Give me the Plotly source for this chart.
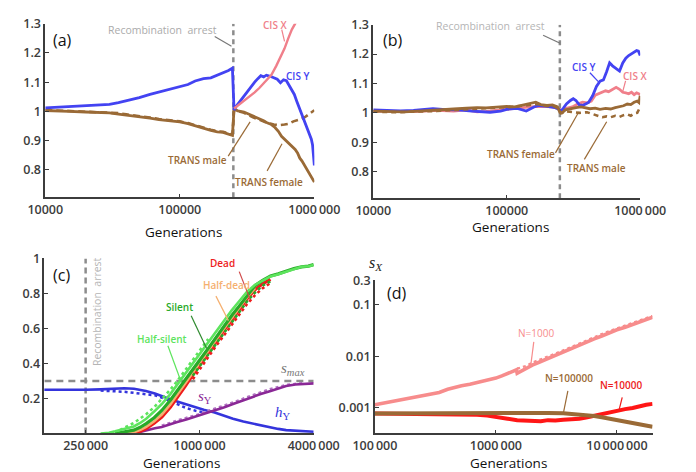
import plotly.graph_objects as go

W, H = 696, 472

# ---------------- shared reference values ----------------
arrest = 250000
smax = 0.3

# ---------------- Panel (a) ----------------
a_pre_x = [10000, 12500, 15000, 20000, 25000, 30000, 35000, 40000, 50000, 60000, 70000,
           80000, 90000, 100000, 115000, 130000, 150000, 170000, 190000, 210000, 230000, 246000]
a_cisY_pre = [1.012, 1.014, 1.016, 1.018, 1.021, 1.024, 1.03, 1.036, 1.047, 1.058, 1.066,
              1.073, 1.078, 1.083, 1.092, 1.104, 1.112, 1.115, 1.124, 1.131, 1.14, 1.148]
a_cisY_post_x = [253000, 265000, 280000, 300000, 320000, 340000, 360000, 380000, 400000, 420000,
                 440000, 470000, 500000, 530000, 560000, 590000, 620000, 650000, 680000, 710000,
                 740000, 770000, 800000, 830000, 860000, 890000, 920000, 950000, 970000, 985000, 1000000]
a_cisY_post = [1.005, 1.02, 1.035, 1.05, 1.068, 1.085, 1.1, 1.112, 1.122, 1.118,
               1.124, 1.12, 1.115, 1.11, 1.098, 1.108, 1.105, 1.09, 1.075, 1.058,
               1.035, 1.015, 0.995, 0.978, 0.96, 0.94, 0.925, 0.905, 0.885, 0.86, 0.815]
a_cisX_x = [253000, 270000, 300000, 330000, 360000, 390000, 420000, 450000, 480000, 520000,
            560000, 600000, 640000, 680000, 720000, 750000]
a_cisX = [1.01, 1.02, 1.035, 1.05, 1.065, 1.08, 1.095, 1.11, 1.125, 1.155,
          1.185, 1.215, 1.25, 1.28, 1.3, 1.32]
a_fem_pre = [1.003, 1.0, 1.0, 0.998, 0.997, 0.995, 0.991, 0.988, 0.983, 0.977, 0.972,
             0.969, 0.967, 0.964, 0.958, 0.95, 0.943, 0.935, 0.93, 0.928, 0.922, 0.918]
a_fem_post_x = [253000, 270000, 300000, 330000, 360000, 390000, 420000, 450000, 480000, 510000,
                540000, 570000, 600000, 630000, 660000, 690000, 720000, 750000, 780000, 810000,
                840000, 870000, 900000, 930000, 960000, 1000000]
a_fem_post = [1.008, 1.002, 0.998, 0.99, 0.982, 0.975, 0.968, 0.96, 0.955, 0.945,
              0.932, 0.915, 0.905, 0.895, 0.886, 0.878, 0.87, 0.858, 0.84, 0.83,
              0.818, 0.806, 0.796, 0.784, 0.774, 0.758]
a_male_pre = [1.005, 1.003, 1.002, 1.0, 0.999, 0.997, 0.994, 0.99, 0.985, 0.979, 0.974,
              0.971, 0.969, 0.966, 0.96, 0.952, 0.945, 0.937, 0.932, 0.93, 0.924, 0.92]
a_male_post_x = [253000, 300000, 350000, 400000, 450000, 500000, 550000, 600000, 650000, 700000,
                 750000, 800000, 850000, 900000, 950000, 1000000]
a_male_post = [1.005, 0.995, 0.98, 0.97, 0.96, 0.955, 0.953, 0.955, 0.958, 0.966,
               0.97, 0.974, 0.98, 0.988, 0.996, 1.004]
a_yticks = [0.8, 0.9, 1.0, 1.1, 1.2, 1.3]
a_yticktext = ["0.8", "0.9", "1", "1.1", "1.2", "1.3"]
ab_xticks = [10000, 100000, 1000000]
ab_xticktext = ["10000", "100000", "1000\u2009000"]

# ---------------- Panel (b) ----------------
b_cisY_x = [10000, 13000, 16000, 20000, 25000, 28000, 35000, 43000, 55000, 65000,
            75000, 90000, 100000, 120000, 140000, 160000, 175000, 200000, 230000, 245000,
            255000, 265000, 280000, 300000, 315000, 330000, 350000, 370000, 390000, 410000,
            440000, 470000, 500000, 530000, 560000, 590000, 620000, 660000, 700000, 740000,
            780000, 820000, 860000, 900000, 940000, 970000, 1000000]
b_cisY = [1.01, 1.008, 1.007, 1.008, 1.012, 1.014, 1.011, 1.01, 1.006, 1.003,
          1.002, 1.006, 1.012, 1.015, 1.006, 1.02, 1.025, 1.022, 1.018, 1.012,
          1.006, 1.015, 1.03, 1.042, 1.048, 1.042, 1.027, 1.025, 1.03, 1.035,
          1.058, 1.09, 1.108, 1.112, 1.14, 1.17, 1.16, 1.15, 1.142, 1.17,
          1.186, 1.195, 1.2, 1.205, 1.212, 1.21, 1.195]
b_cisX_x = [10000, 15000, 20000, 30000, 40000, 50000, 60000, 70000, 80000, 100000,
            120000, 150000, 180000, 220000, 245000, 255000, 280000, 310000, 340000, 370000,
            400000, 430000, 460000, 490000, 520000, 550000, 580000, 620000, 660000, 700000,
            740000, 780000, 820000, 860000, 900000, 940000, 1000000]
b_cisX = [1.006, 1.004, 1.004, 1.008, 1.006, 1.01, 1.003, 1.005, 1.008, 1.012,
          1.016, 1.02, 1.022, 1.02, 1.014, 1.008, 1.015, 1.02, 1.03, 1.036,
          1.034, 1.04, 1.06, 1.065, 1.07, 1.075, 1.072, 1.08, 1.087, 1.08,
          1.07, 1.068, 1.065, 1.07, 1.062, 1.068, 1.062]
b_fem_x = [10000, 13000, 17000, 22000, 28000, 33000, 40000, 50000, 60000, 70000,
           85000, 100000, 115000, 130000, 150000, 165000, 180000, 200000, 220000, 240000,
           250000, 260000, 275000, 300000, 330000, 360000, 390000, 420000, 460000, 500000,
           550000, 600000, 650000, 700000, 750000, 800000, 850000, 900000, 950000, 980000, 1000000]
b_fem = [1.006, 1.004, 1.003, 1.006, 1.008, 1.01, 1.013, 1.016, 1.018, 1.017,
         1.02, 1.022, 1.02, 1.025, 1.032, 1.036, 1.028, 1.025, 1.027, 1.02,
         1.002, 1.0, 1.01, 1.015, 1.018, 1.02, 1.016, 1.014, 1.016, 1.012,
         1.015, 1.013, 1.018, 1.02, 1.024, 1.03, 1.028, 1.036, 1.04, 1.035, 1.058]
b_male_x = [10000, 15000, 20000, 30000, 40000, 55000, 70000, 90000, 110000, 140000,
            170000, 200000, 230000, 250000, 255000, 280000, 310000, 350000, 400000, 440000,
            480000, 520000, 560000, 600000, 650000, 700000, 750000, 800000, 850000, 900000,
            950000, 1000000]
b_male = [1.004, 1.002, 1.004, 1.006, 1.01, 1.014, 1.015, 1.018, 1.02, 1.025,
          1.03, 1.023, 1.022, 1.005, 0.998, 1.005, 1.003, 1.0, 1.002, 0.995,
          0.99, 0.985, 0.988, 0.985, 0.99, 0.986, 0.992, 0.995, 0.99, 0.998,
          1.0, 1.02]

# ---------------- Panel (c) ----------------
c_hY_x = [150000, 200000, 250000, 300000, 350000, 400000, 450000, 520000, 580000, 630000,
          700000, 760000, 850000, 950000, 1050000, 1200000, 1350000, 1500000, 1700000, 1900000,
          2100000, 2370000, 2600000, 2860000, 3200000, 3600000, 4000000]
c_hY = [0.25, 0.249, 0.25, 0.252, 0.255, 0.258, 0.255, 0.243, 0.228, 0.212,
        0.196, 0.183, 0.165, 0.15, 0.135, 0.12, 0.1, 0.084, 0.068, 0.056,
        0.045, 0.034, 0.026, 0.019, 0.015, 0.012, 0.01]
c_hYdot_x = [300000, 350000, 400000, 450000, 520000, 580000, 650000, 760000, 850000, 950000, 1050000]
c_hYdot = [0.245, 0.242, 0.238, 0.232, 0.226, 0.218, 0.2, 0.168, 0.145, 0.13, 0.12]
c_sY_x = [430000, 457000, 490000, 522000, 580000, 631000, 700000, 762000, 850000, 955000,
          1050000, 1200000, 1350000, 1500000, 1700000, 1890000, 2100000, 2370000, 2600000, 2860000,
          3200000, 3600000, 4000000]
c_sY = [0.0, 0.0, 0.01, 0.019, 0.03, 0.037, 0.05, 0.065, 0.08, 0.097,
        0.11, 0.131, 0.15, 0.168, 0.19, 0.206, 0.225, 0.243, 0.258, 0.271,
        0.28, 0.284, 0.286]
c_sYdot_x = [631000, 762000, 955000, 1200000, 1500000, 1890000, 2370000, 2860000, 3600000]
c_sYdot = [0.045, 0.075, 0.105, 0.14, 0.178, 0.218, 0.255, 0.278, 0.29]
c_hs_x = [300000, 332000, 358000, 386000, 420000, 449000, 485000, 522000, 575000, 631000,
          700000, 762000, 840000, 920000, 1010000, 1110000, 1220000, 1343000, 1480000, 1620000,
          1780000, 1960000, 2150000, 2366000, 2600000, 2857000, 3150000, 3450000, 3750000, 4000000]
c_hs = [0.0, 0.004, 0.012, 0.022, 0.03, 0.04, 0.06, 0.084, 0.125, 0.168,
        0.225, 0.28, 0.34, 0.4, 0.46, 0.52, 0.585, 0.645, 0.705, 0.757,
        0.81, 0.85, 0.875, 0.897, 0.91, 0.925, 0.94, 0.953, 0.955, 0.962]
c_sil_x = [358000, 400000, 449000, 485000, 522000, 575000, 631000, 700000, 762000, 840000,
           920000, 1010000, 1110000, 1220000, 1343000, 1480000, 1620000, 1780000, 1960000, 2150000,
           2366000, 2600000, 2857000, 3150000, 3450000, 3750000, 4000000]
c_sil = [0.0, 0.008, 0.019, 0.035, 0.056, 0.09, 0.131, 0.19, 0.243, 0.305,
         0.365, 0.425, 0.486, 0.55, 0.617, 0.675, 0.729, 0.79, 0.845, 0.875,
         0.9, 0.912, 0.928, 0.942, 0.952, 0.956, 0.965]
c_dead_x = [430000, 457000, 490000, 522000, 575000, 631000, 700000, 762000, 840000, 920000,
            1010000, 1110000, 1220000, 1343000, 1480000, 1620000, 1780000, 1960000, 2150000, 2366000]
c_dead = [0.0, 0.004, 0.014, 0.028, 0.058, 0.093, 0.15, 0.205, 0.27, 0.336,
          0.4, 0.462, 0.525, 0.589, 0.65, 0.71, 0.77, 0.822, 0.855, 0.88]
c_hd_x = [400000, 430000, 457000, 490000, 522000, 575000, 631000, 700000, 762000, 840000,
          920000, 1010000, 1110000, 1220000, 1343000, 1480000, 1620000, 1780000, 1960000]
c_hd = [0.0, 0.004, 0.01, 0.022, 0.038, 0.07, 0.108, 0.165, 0.222, 0.285,
        0.348, 0.41, 0.473, 0.535, 0.598, 0.66, 0.718, 0.778, 0.83]
c_hsdot_x = [380000, 420000, 449000, 485000, 522000, 575000, 631000, 700000, 762000, 840000,
             920000, 1010000, 1110000]
c_hsdot = [0.02, 0.045, 0.06, 0.085, 0.11, 0.15, 0.195, 0.25, 0.3, 0.36, 0.42, 0.48, 0.54]
c_late_x = [920000, 1010000, 1110000, 1220000, 1343000, 1480000, 1620000, 1780000, 1960000,
            2150000, 2366000]
c_deaddot = [0.31, 0.375, 0.44, 0.5, 0.56, 0.62, 0.68, 0.74, 0.79, 0.83, 0.86]
c_sildot = [0.33, 0.39, 0.455, 0.515, 0.575, 0.635, 0.695, 0.755, 0.805, 0.845, 0.87]
c_xticks = [250000, 1000000, 4000000]
c_xticktext = ["250\u2009000", "1000\u2009000", "4000\u2009000"]
c_yticks = [0.2, 0.4, 0.6, 0.8, 1.0]
c_yticktext = ["0.2", "0.4", "0.6", "0.8", "1"]

# ---------------- Panel (d) ----------------
d_n1000_x = [100000, 130000, 160000, 190000, 250000, 300000, 340000, 400000, 450000, 520000,
             610000, 700000, 800000, 900000, 1000000, 1120000, 1250000, 1380000, 1480000, 1500000,
             1650000, 1800000, 2000000, 2300000, 2700000, 3100000, 3600000, 4200000, 5000000, 5700000,
             6500000, 7500000, 8700000, 10000000, 11700000, 13500000, 15700000, 17500000, 19700000]
d_n1000 = [0.00115, 0.0013, 0.0014, 0.0015, 0.0017, 0.00185, 0.002, 0.0023, 0.0025, 0.0027,
           0.0029, 0.0031, 0.0034, 0.0036, 0.0038, 0.0042, 0.0046, 0.0051, 0.0055, 0.0047,
           0.0053, 0.006, 0.0068, 0.0078, 0.0092, 0.0105, 0.0124, 0.0142, 0.017, 0.0195,
           0.022, 0.025, 0.029, 0.033, 0.037, 0.042, 0.048, 0.053, 0.058]
d_n1000dot_x = [1500000, 1800000, 2000000, 2500000, 3000000, 4000000, 5000000, 6500000, 8000000,
                10000000, 12500000, 15700000, 19700000]
d_n1000dot = [0.0058, 0.0066, 0.0076, 0.0092, 0.011, 0.0145, 0.018, 0.024, 0.029,
              0.035, 0.042, 0.05, 0.061]
d_n10000_x = [100000, 150000, 200000, 300000, 400000, 550000, 700000, 850000, 1000000, 1250000,
              1500000, 1750000, 2000000, 2350000, 2700000, 3100000, 3600000, 4200000, 4900000, 5700000,
              6500000, 7500000, 8700000, 10000000, 11700000, 13500000, 15700000, 17500000, 19700000]
d_n10000 = [0.00078, 0.00077, 0.00079, 0.00078, 0.00077, 0.00076, 0.00074, 0.00071, 0.00068, 0.00062,
            0.00058, 0.00057, 0.00056, 0.00055, 0.00058, 0.00057, 0.00059, 0.0006, 0.00062, 0.00066,
            0.00071, 0.00077, 0.00083, 0.00088, 0.00095, 0.001, 0.0011, 0.00115, 0.0012]
d_n100000_x = [100000, 200000, 300000, 500000, 700000, 1000000, 1500000, 2000000, 2700000, 3600000,
               4200000, 5000000, 5700000, 6500000, 7500000, 8700000, 9800000, 11000000, 12500000, 14000000,
               15700000, 17500000, 19700000]
d_n100000 = [0.00078, 0.00079, 0.00079, 0.00078, 0.00079, 0.00078, 0.00079, 0.0008, 0.0008, 0.00079,
             0.00077, 0.00075, 0.00072, 0.0007, 0.00066, 0.00062, 0.00059, 0.00056, 0.00053, 0.0005,
             0.00048, 0.00045, 0.00043]
d_xticks = [100000, 1000000, 10000000]
d_xticktext = ["100\u2009000", "1000\u2009000", "10\u2009000\u2009000"]
d_yticks = [0.001, 0.01, 0.1, 0.3]
d_yticktext = ["0.001", "0.01", "0.1", "0.3"]

# ---------------- styling ----------------
BLUE = "#4343f2"
PINK = "#f07f8a"
BROWN = "#9a6a36"
GDASH = "#8c8c8c"
LGREEN = "#5de45d"
GREEN = "#28aa28"
RED = "#ee1c1c"
ORANGE = "#f5b070"
PURPLE = "#8a2896"
BLUE2 = "#3434dc"
PINK2 = "#f78c8c"
RED2 = "#ff1616"

AX_RANGES = {
    "a": dict(x=[4, 6], y=[0.706, 1.3]),
    "b": dict(x=[4, 6], y=[0.709, 1.3]),
    "c": dict(x=[5.18, 6.602], y=[0, 1]),
    "d": dict(x=[5, 7.295], y=[-3.495, -0.523]),
}

fig = go.Figure()


def add(x, y, color, width, ax, dash=None):
    fig.add_trace(go.Scatter(x=x, y=y, mode="lines",
                             line=dict(color=color, width=width, dash=dash),
                             xaxis="x" + ax, yaxis="y" + ax,
                             showlegend=False, hoverinfo="skip"))


# panel a (axis suffix "")
ya0, ya1 = AX_RANGES["a"]["y"]
add([arrest, arrest], [ya0, ya1], GDASH, 2.5, "", "5px,4px")
add(a_pre_x + a_male_post_x, a_male_pre + a_male_post, BROWN, 2.6, "", "7px,4px")
add(a_pre_x + a_fem_post_x, a_fem_pre + a_fem_post, BROWN, 2.8, "")
add(a_pre_x + a_cisY_post_x, a_cisY_pre + a_cisY_post, BLUE, 2.8, "")
add(a_cisX_x, a_cisX, PINK, 2.4, "")

# panel b (axis suffix "2")
yb0, yb1 = AX_RANGES["b"]["y"]
add([arrest, arrest], [yb0, yb1], GDASH, 2.5, "2", "5px,4px")
add(b_cisX_x, b_cisX, PINK, 2.8, "2")
add(b_cisY_x, b_cisY, BLUE, 2.8, "2")
add(b_male_x, b_male, BROWN, 2.6, "2", "5px,4px")
add(b_fem_x, b_fem, BROWN, 2.8, "2")

# panel c (axis suffix "3")
add([arrest, arrest], [0, 1], GDASH, 2.5, "3", "6px,4px")
add([10 ** 5.18, 4000000], [smax, smax], GDASH, 2.5, "3", "7px,5px")
add(c_hYdot_x, c_hYdot, BLUE2, 2.5, "3", "dot")
add(c_hY_x, c_hY, BLUE2, 2.6, "3")
add(c_sYdot_x, c_sYdot, "#b070c0", 2.2, "3", "dot")
add(c_sY_x, c_sY, PURPLE, 2.6, "3")
add(c_dead_x, c_dead, RED, 3.2, "3")
add(c_hd_x, c_hd, ORANGE, 2.6, "3")
add(c_late_x, c_deaddot, RED, 2.6, "3", "dot")
add(c_late_x, c_sildot, GREEN, 2.6, "3", "dot")
add(c_sil_x, c_sil, GREEN, 3.2, "3")
add(c_hsdot_x, c_hsdot, LGREEN, 2.6, "3", "dot")
add(c_hs_x, c_hs, LGREEN, 2.6, "3")

# panel d (axis suffix "4")
add(d_n10000_x, d_n10000, RED2, 4, "4")
add(d_n100000_x, d_n100000, BROWN, 4, "4")
add(d_n1000dot_x, d_n1000dot, PINK2, 2.4, "4", "dot")
add(d_n1000_x, d_n1000, PINK2, 3.6, "4")


def px(x):
    return x / W


def py(y):
    return 1 - y / H


TICKFONT = dict(family="Open Sans", size=12.5, color="#3c3c3c", weight=600)
common = dict(showline=True, linecolor="#3c3c3c", linewidth=1.5, ticks="inside",
              ticklen=4, tickwidth=1.2, tickcolor="#3c3c3c", showgrid=False,
              zeroline=False, tickfont=TICKFONT, fixedrange=True)

dom = {
    "a": dict(x=[px(25), px(314)], y=[py(192), py(15)]),
    "b": dict(x=[px(377.3), px(664)], y=[py(193), py(16)]),
    "c": dict(x=[px(24), px(313.3)], y=[py(432.7), py(254.3)]),
    "d": dict(x=[px(379), px(677.3)], y=[py(432.7), py(276.7)]),
}

layout = dict(width=W, height=H, margin=dict(l=0, r=0, t=0, b=0), autosize=False,
              paper_bgcolor="white", plot_bgcolor="white", showlegend=False)

for key, suf in [("a", ""), ("b", "2"), ("c", "3"), ("d", "4")]:
    xa = dict(common, type="log", domain=dom[key]["x"], range=AX_RANGES[key]["x"],
              anchor="y" + suf)
    ya = dict(common, domain=dom[key]["y"], range=AX_RANGES[key]["y"], anchor="x" + suf)
    if key in ("a", "b"):
        xa.update(tickvals=ab_xticks, ticktext=ab_xticktext)
        ya.update(tickvals=a_yticks, ticktext=a_yticktext)
    elif key == "c":
        xa.update(tickvals=c_xticks, ticktext=c_xticktext)
        ya.update(tickvals=c_yticks, ticktext=c_yticktext)
    else:
        xa.update(tickvals=d_xticks, ticktext=d_xticktext)
        ya.update(type="log", tickvals=d_yticks, ticktext=d_yticktext)
    layout["xaxis" + suf] = xa
    layout["yaxis" + suf] = ya

fig.update_layout(**layout)

annots = []
shapes = []


def text(t, x, y, color, size=10, weight=600, family="Open Sans", angle=0):
    annots.append(dict(text=t, x=px(x), y=py(y), xref="paper", yref="paper",
                       showarrow=False, xanchor="center", yanchor="middle",
                       textangle=angle, borderpad=0,
                       font=dict(family=family, size=size, color=color, weight=weight)))


def seg(x0, y0, x1, y1, color, width=1.2):
    shapes.append(dict(type="line", xref="paper", yref="paper",
                       x0=px(x0), y0=py(y0), x1=px(x1), y1=py(y1),
                       line=dict(color=color, width=width)))


REC = "Recombination\u00a0 arrest"

# panel a texts
text("(a)", 44, 32, "#111111", 16, 400)
text(REC, 151, 21, "#ababab", 10.5, 400)
seg(207, 28, 225, 38, "#777777")
text("CIS X", 272, 16, PINK, 10)
seg(279, 21, 282, 33, PINK)
text("CIS Y", 296, 68, BLUE, 10)
text("TRANS male", 188, 154, BROWN, 10)
seg(221.5, 150, 245, 115, BROWN)
text("TRANS female", 265.5, 176, BROWN, 10)
seg(263.3, 165, 279.3, 137.3, BROWN)
text("Generations", 173, 227, "#111111", 13.5, 400)

# panel b texts
text("(b)", 398, 32, "#111111", 16, 400)
text(REC, 503, 17, "#b5b5b5", 10.5, 400)
seg(559.7, 26.7, 578, 35, "#777777")
text("CIS Y", 603, 59.3, BLUE, 10)
seg(610, 65, 620, 75, BLUE)
text("CIS X", 658, 68.3, PINK, 10)
seg(648.3, 73.3, 645, 85, PINK)
text("TRANS female", 536.3, 147.7, BROWN, 10)
seg(573, 146.7, 598, 105, BROWN)
text("TRANS male", 617.5, 162.3, BROWN, 10)
seg(604, 153.3, 628, 115, BROWN)
text("Generations", 524.7, 222.5, "#111111", 13.5, 400)

# panel c texts
text("(c)", 42.5, 271, "#111111", 16, 400)
text(REC, 80, 308.5, "#b5b5b5", 10.5, 400, angle=-90)
text("Dead", 215, 258.7, RED, 10)
seg(233.3, 267.7, 245, 296, "#d04848")
text("Half-dead", 220, 281, ORANGE, 10)
seg(208.3, 292.7, 221.7, 317.7, ORANGE)
text("Silent", 169, 304.3, GREEN, 10)
seg(181.7, 312.7, 198.3, 346, "#2f8a2f")
text("Half-silent", 150, 336, LGREEN, 10)
seg(156.7, 343.3, 170, 377.7, LGREEN)
text("<i>s</i><sub><i>max</i></sub>", 291, 367, "#777777", 15, 400, "Liberation Serif")
text("<i>s</i><sub>Y</sub>", 197, 396, PURPLE, 15, 400, "Liberation Serif")
text("<i>h</i><sub>Y</sub>", 280, 412, BLUE2, 15, 400, "Liberation Serif")
text("Generations", 171.3, 462.5, "#111111", 13.5, 400)

# panel d texts
text("<i>s</i><sub><i>X</i></sub>", 380, 259, "#222222", 16, 400, "Liberation Serif")
text("(d)", 403, 289.3, "#111111", 16, 400)
text("N=1000", 552, 330.3, PINK2, 10, 400)
seg(549.7, 339.3, 546.3, 364.3, PINK2)
text("N=100000", 587, 376, BROWN, 10)
seg(586.3, 389.3, 581.3, 412.7, BROWN)
text("N=10000", 643.8, 383.7, RED, 10)
seg(644.7, 396, 641.3, 408.7, RED)
text("Generations", 523, 462.5, "#111111", 13.5, 400)

fig.update_layout(annotations=annots, shapes=shapes)
fig.write_html("out.html")
